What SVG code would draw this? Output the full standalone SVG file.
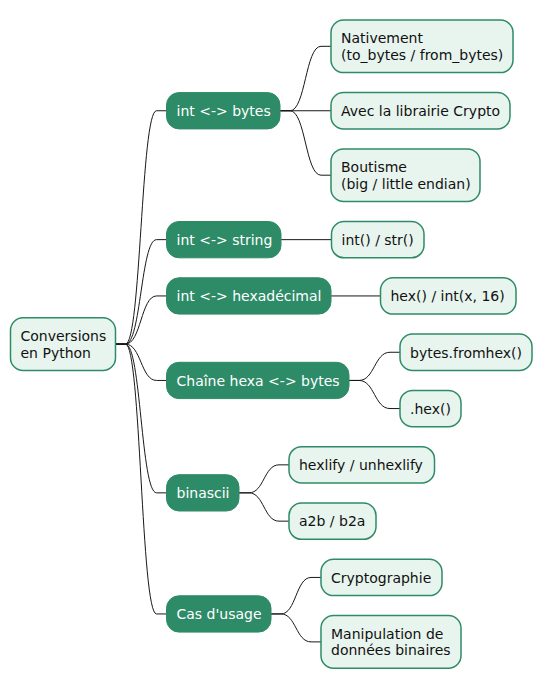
<svg xmlns="http://www.w3.org/2000/svg" width="542" height="689" viewBox="0 0 542 689">
<style>
text{font-family:"DejaVu Sans","Liberation Sans",sans-serif;font-size:14px}
.main rect{fill:#2E8B67;stroke:#2E8B67;stroke-width:1}
.main text{fill:#FFFFFF}
.leaf rect{fill:#E8F5EE;stroke:#2E8B67;stroke-width:1.5}
.leaf text{fill:#111111}
#links path{fill:none;stroke:#181818;stroke-width:1}
</style>
<rect width="542" height="689" fill="#FFFFFF"/>
<g id="links">
<path d="M115.5,344.1 L125.5,344.1 C141,344.1 141,110.75 156.5,110.75 L166.5,110.75"/>
<path d="M115.5,344.1 L125.5,344.1 C141,344.1 141,239.65 156.5,239.65 L166.5,239.65"/>
<path d="M115.5,344.1 L125.5,344.1 C141,344.1 141,295.95 156.5,295.95 L166.5,295.95"/>
<path d="M115.5,344.1 L125.5,344.1 C141,344.1 141,380.45 156.5,380.45 L166.5,380.45"/>
<path d="M115.5,344.1 L125.5,344.1 C141,344.1 141,492.85 156.5,492.85 L166.5,492.85"/>
<path d="M115.5,344.1 L125.5,344.1 C141,344.1 141,613.95 156.5,613.95 L166.5,613.95"/>
<path d="M280,110.75 L290,110.75 C305.5,110.75 305.5,46.3 321,46.3 L331,46.3"/>
<path d="M280,110.75 L331,110.75"/>
<path d="M280,110.75 L290,110.75 C305.5,110.75 305.5,175.2 321,175.2 L331,175.2"/>
<path d="M281,239.65 L331.5,239.65"/>
<path d="M331,295.95 L380.5,295.95"/>
<path d="M349,380.45 L359,380.45 C374.5,380.45 374.5,352.25 390,352.25 L400,352.25"/>
<path d="M349,380.45 L359,380.45 C374.5,380.45 374.5,408.55 390,408.55 L400,408.55"/>
<path d="M239,492.85 L249,492.85 C264,492.85 264,464.85 279,464.85 L289,464.85"/>
<path d="M239,492.85 L249,492.85 C264,492.85 264,521.15 279,521.15 L289,521.15"/>
<path d="M271,613.95 L281,613.95 C296,613.95 296,577.45 311,577.45 L321,577.45"/>
<path d="M271,613.95 L281,613.95 C296,613.95 296,641.9 311,641.9 L321,641.9"/>
</g>
<g id="root" class="leaf"><rect x="10.5" y="317.8" width="105" height="52.6" rx="12.5"/><text x="20.5" y="341.2">Conversions</text><text x="20.5" y="357.5">en Python</text></g>
<g id="n-bytes" class="main"><rect x="166.5" y="92.6" width="113.5" height="36.3" rx="12.5"/><text x="176.5" y="116">int &lt;-&gt; bytes</text></g>
<g id="n-string" class="main"><rect x="166.5" y="221.5" width="114.5" height="36.3" rx="12.5"/><text x="176.5" y="244.9">int &lt;-&gt; string</text></g>
<g id="n-hexa" class="main"><rect x="166.5" y="277.8" width="164.5" height="36.3" rx="12.5"/><text x="176.5" y="301.2">int &lt;-&gt; hexadécimal</text></g>
<g id="n-chaine" class="main"><rect x="166.5" y="362.3" width="182.5" height="36.3" rx="12.5"/><text x="176.5" y="385.7">Chaîne hexa &lt;-&gt; bytes</text></g>
<g id="n-binascii" class="main"><rect x="166.5" y="474.7" width="72.5" height="36.3" rx="12.5"/><text x="176.5" y="498.1">binascii</text></g>
<g id="n-cas" class="main"><rect x="166.5" y="595.8" width="104.5" height="36.3" rx="12.5"/><text x="176.5" y="619.2">Cas d'usage</text></g>
<g id="l-natif" class="leaf"><rect x="331" y="20" width="182" height="52.6" rx="12.5"/><text x="341" y="43.4">Nativement</text><text x="341" y="59.7">(to_bytes / from_bytes)</text></g>
<g id="l-crypto" class="leaf"><rect x="331" y="92.6" width="179" height="36.3" rx="12.5"/><text x="341" y="116">Avec la librairie Crypto</text></g>
<g id="l-boutisme" class="leaf"><rect x="331" y="148.9" width="149" height="52.6" rx="12.5"/><text x="341" y="172.3">Boutisme</text><text x="341" y="188.6">(big / little endian)</text></g>
<g id="l-intstr" class="leaf"><rect x="331.5" y="221.5" width="92.5" height="36.3" rx="12.5"/><text x="341.5" y="244.9">int() / str()</text></g>
<g id="l-hex" class="leaf"><rect x="380.5" y="277.8" width="135.5" height="36.3" rx="12.5"/><text x="390.5" y="301.2">hex() / int(x, 16)</text></g>
<g id="l-fromhex" class="leaf"><rect x="400" y="334.1" width="132" height="36.3" rx="12.5"/><text x="410" y="357.5">bytes.fromhex()</text></g>
<g id="l-dothex" class="leaf"><rect x="400" y="390.4" width="61" height="36.3" rx="12.5"/><text x="410" y="413.8">.hex()</text></g>
<g id="l-hexlify" class="leaf"><rect x="289" y="446.7" width="145.5" height="36.3" rx="12.5"/><text x="299" y="470.1">hexlify / unhexlify</text></g>
<g id="l-a2b" class="leaf"><rect x="289" y="503" width="87" height="36.3" rx="12.5"/><text x="299" y="526.4">a2b / b2a</text></g>
<g id="l-cryptographie" class="leaf"><rect x="321" y="559.3" width="121" height="36.3" rx="12.5"/><text x="331" y="582.7">Cryptographie</text></g>
<g id="l-manip" class="leaf"><rect x="321" y="615.6" width="140" height="52.6" rx="12.5"/><text x="331" y="639">Manipulation de</text><text x="331" y="655.3">données binaires</text></g>
</svg>
